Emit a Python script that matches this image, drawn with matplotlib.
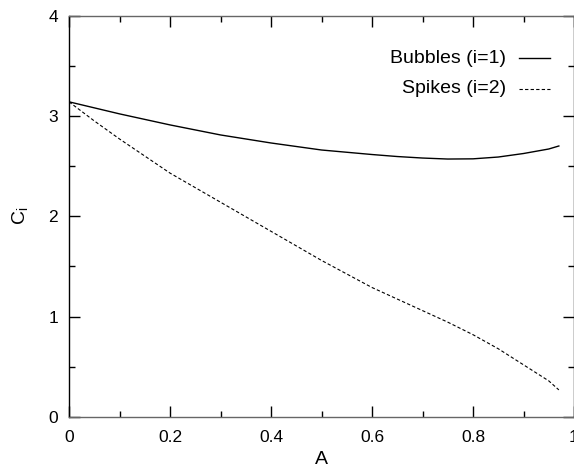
import matplotlib
matplotlib.use('Agg')
import matplotlib.pyplot as plt
from matplotlib.ticker import MultipleLocator, FixedFormatter, FixedLocator

plt.rcParams['font.family'] = ['Liberation Sans', 'DejaVu Sans']
plt.rcParams['mathtext.fontset'] = 'custom'
plt.rcParams['mathtext.rm'] = 'Liberation Sans'
plt.rcParams['mathtext.it'] = 'Liberation Sans'

# values
a_bubbles = [0, 0.1, 0.2, 0.3, 0.4, 0.5, 0.6, 0.65, 0.7, 0.75, 0.8, 0.85, 0.9, 0.95, 0.97]
c_bubbles = [3.14, 3.02, 2.91, 2.81, 2.73, 2.66, 2.615, 2.595, 2.58, 2.57, 2.572, 2.59, 2.625, 2.67, 2.70]

a_spikes = [0, 0.05, 0.1, 0.2, 0.3, 0.4, 0.5, 0.6, 0.7, 0.75, 0.8, 0.85, 0.9, 0.95, 0.97]
c_spikes = [3.14, 2.95, 2.77, 2.43, 2.14, 1.85, 1.56, 1.29, 1.06, 0.945, 0.82, 0.68, 0.52, 0.36, 0.27]

labels = ['Bubbles (i=1)', 'Spikes (i=2)']
xticklabels = ['0', '0.2', '0.4', '0.6', '0.8', '1']
yticklabels = ['0', '1', '2', '3', '4']

fig = plt.figure(figsize=(5.74, 4.68), dpi=100)
ax = fig.add_axes([69/574, 51/468, 505/574, 401.5/468])

ax.plot(a_bubbles, c_bubbles, color='black', lw=1.0)
ax.plot(a_spikes, c_spikes, color='black', lw=0.8, linestyle=(0, (3, 2)))

ax.set_xlim(0, 1)
ax.set_ylim(0, 4)
ax.xaxis.set_major_locator(FixedLocator([0, 0.2, 0.4, 0.6, 0.8, 1.0]))
ax.xaxis.set_major_formatter(FixedFormatter(xticklabels))
ax.xaxis.set_minor_locator(MultipleLocator(0.1))
ax.yaxis.set_major_locator(FixedLocator([0, 1, 2, 3, 4]))
ax.yaxis.set_major_formatter(FixedFormatter(yticklabels))
ax.yaxis.set_minor_locator(MultipleLocator(0.5))

ax.tick_params(which='both', direction='in', top=True, right=True, labelsize=12.5)
ax.tick_params(which='major', length=8, width=1)
ax.tick_params(which='minor', length=4, width=1)
ax.tick_params(axis='x', pad=9)
ax.tick_params(axis='y', pad=8)

ax.spines['left'].set_color('black')
ax.spines['bottom'].set_color('#666666')
ax.spines['top'].set_color('#666666')
for s in ax.spines.values():
    s.set_linewidth(1)

ax.set_xlabel('A', fontsize=14, labelpad=5)
ax.set_ylabel(r'C$_\mathregular{i}$', fontsize=14, labelpad=13)

# legend drawn gnuplot style: text right aligned, sample on the right
styles = [dict(lw=1.0), dict(lw=0.8, linestyle=(0, (3, 2)))]
rows = [0.894, 0.817]
for lab, st, y in zip(labels, styles, rows):
    ax.text(0.865, y, lab, transform=ax.transAxes, ha='right', va='center', fontsize=14)
    ax.plot([0.891, 0.952], [y, y], transform=ax.transAxes, color='black', **st)

fig.savefig('out.png', dpi=100)
